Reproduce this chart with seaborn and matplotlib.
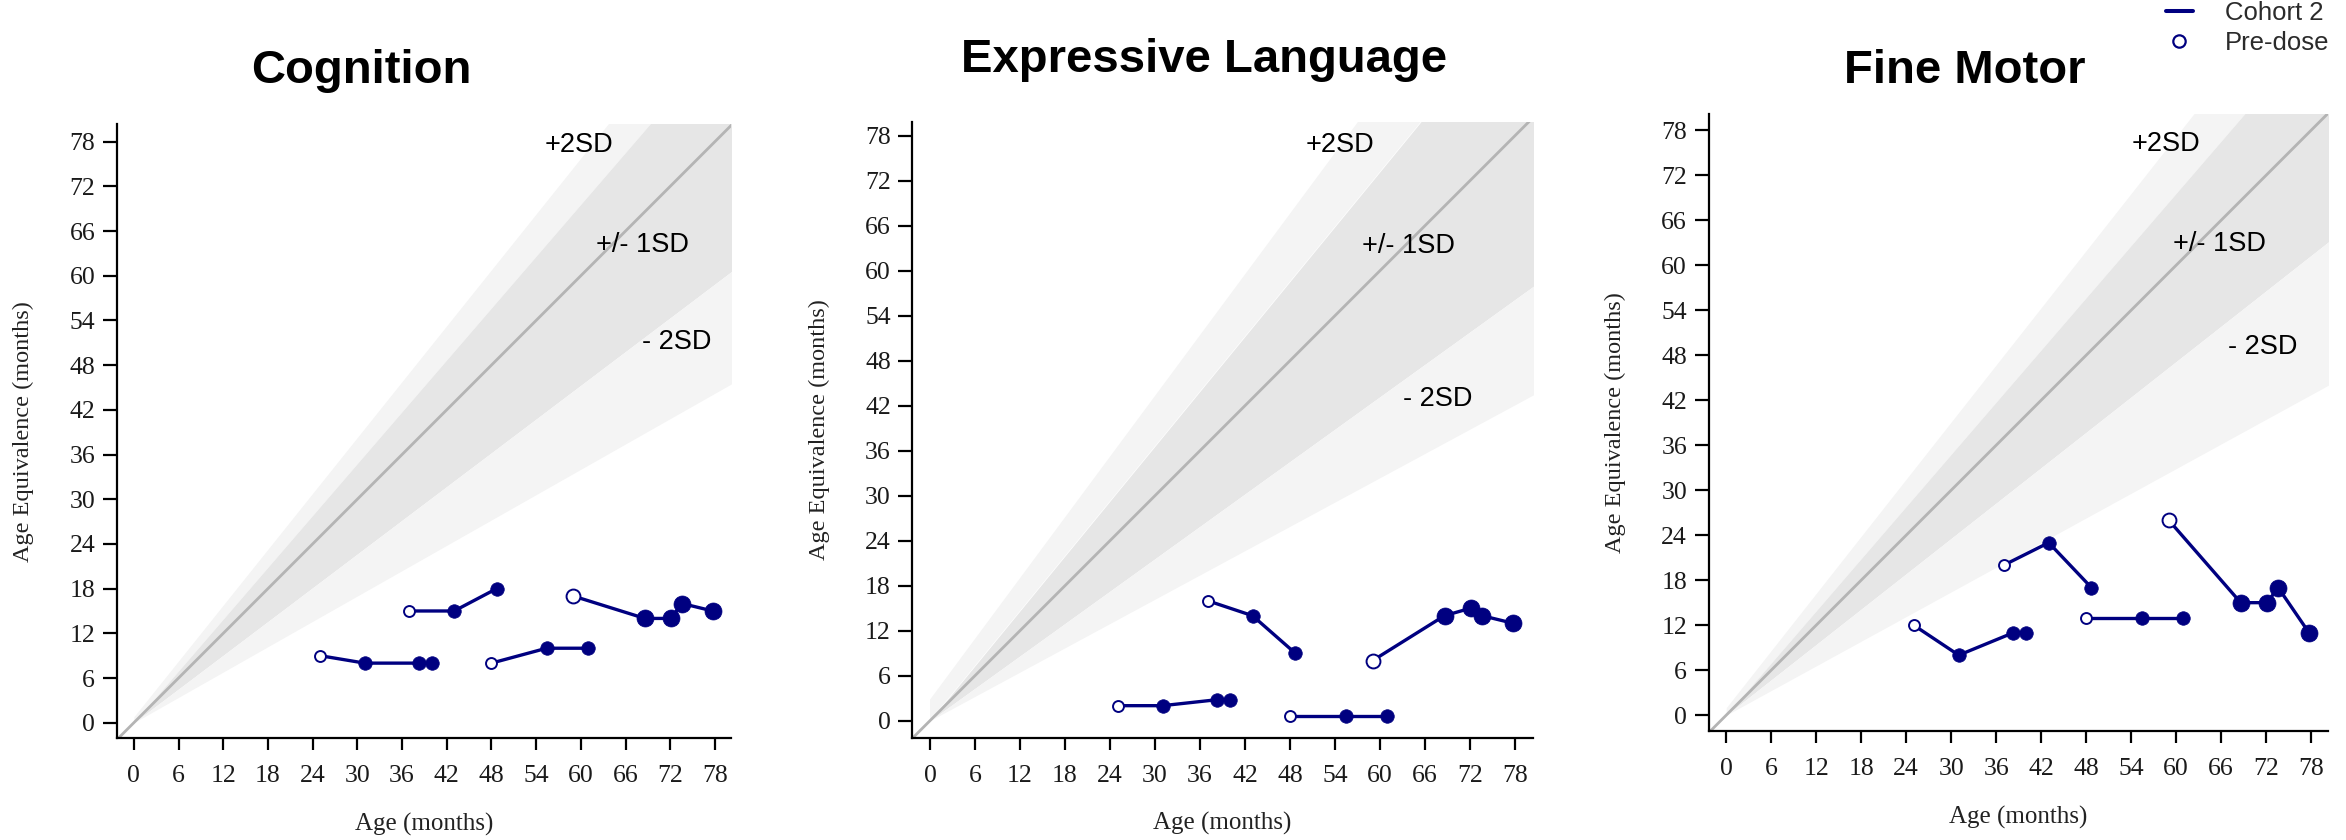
import numpy as np
import pandas as pd
import matplotlib
matplotlib.use("Agg")
import matplotlib.pyplot as plt
from matplotlib.lines import Line2D
import seaborn as sns

sns.set_theme(style="ticks")
plt.rcParams["font.family"] = ["Liberation Serif", "DejaVu Serif"]

NAVY = "#000080"
SANS = ["Liberation Sans", "DejaVu Sans"]

domains = ["Cognition", "Expressive Language", "Fine Motor"]
subjects = ["S1", "S2", "S3", "S4"]

# visit ages (months); the first visit of each subject is the pre-dose assessment
ages_s1 = [25.0, 31.0, 38.3, 40.0]
ages_s2 = [37.0, 43.0, 48.7]
ages_s3 = [48.0, 55.4, 60.9]
ages_s4 = [59.0, 68.6, 72.1, 73.6, 77.7]

# age-equivalent scores (months) per domain and subject
cognition = [[9, 8, 8, 8], [15, 15, 18], [8, 10, 10], [17, 14, 14, 16, 15]]
expressive = [[2, 2, 2.8, 2.8], [16, 14, 9], [0.6, 0.6, 0.6], [8, 14, 15, 14, 13]]
fine_motor = [[12, 8, 11, 11], [20, 23, 17], [13, 13, 13], [26, 15, 15, 17, 11]]

# marker areas per subject (post-dose, pre-dose)
marker_area = [95, 95, 95, 150]
predose_area = [62, 62, 62, 100]

# normative fan: (intercept, slope) of +2SD, +1SD, -1SD, -2SD boundaries
bands_cognition = [(0.8, 1.25), (0.0, 1.16), (0.0, 0.755), (0.0, 0.567)]
bands_expressive = [(2.8, 1.35), (0.0, 1.22), (0.0, 0.72), (0.0, 0.54)]
bands_fine_motor = [(1.0, 1.27), (0.0, 1.16), (0.0, 0.786), (0.0, 0.548)]

# band label anchors (age, score)
band_labels = ["+2SD", "+/- 1SD", "- 2SD"]
label_pos_cognition = [(59.7, 77.5), (68.3, 64.1), (72.9, 51.1)]
label_pos_expressive = [(54.7, 76.7), (63.8, 63.3), (67.7, 42.9)]
label_pos_fine_motor = [(58.6, 76.2), (65.7, 62.8), (71.5, 49.1)]

ticks = list(range(0, 79, 6))

scores = [cognition, expressive, fine_motor]
bands = [bands_cognition, bands_expressive, bands_fine_motor]
label_pos = [label_pos_cognition, label_pos_expressive, label_pos_fine_motor]
ages = [ages_s1, ages_s2, ages_s3, ages_s4]

rows = []
for dom, dom_scores in zip(domains, scores):
    for subj, subj_ages, subj_scores in zip(subjects, ages, dom_scores):
        for k, (a, s) in enumerate(zip(subj_ages, subj_scores)):
            rows.append(dict(domain=dom, subject=subj, age=a, score=s,
                             predose=(k == 0)))
df = pd.DataFrame(rows)

W, H = 2346, 840
fig = plt.figure(figsize=(W / 100, H / 100), dpi=100)

# axes layout in pixels: left, bottom(from top), x-limits, y-limits, px per month
layout = [
    (116.7, 738.0, (-2.3, 80.2), (-2.05, 80.3), 7.45),
    (912.3, 737.7, (-2.36, 80.4), (-2.27, 79.8), 7.50),
    (1708.6, 731.3, (-2.35, 80.3), (-2.15, 80.1), 7.50),
]
title_pos = [(361, 83), (1204, 72), (1965, 83)]

for i, dom in enumerate(domains):
    left, bottom, xl, yl, ppm = layout[i]
    wpx = (xl[1] - xl[0]) * ppm
    hpx = (yl[1] - yl[0]) * ppm
    ax = fig.add_axes([left / W, (H - bottom) / H, wpx / W, hpx / H])
    ax.set_xlim(*xl)
    ax.set_ylim(*yl)

    # normative fan
    xs = np.array([0.0, 85.0])
    bnd = [c + m * xs for c, m in bands[i]]
    ax.fill_between(xs, bnd[1], bnd[0], color="#f4f4f4", lw=0, zorder=0)
    ax.fill_between(xs, bnd[2], bnd[1], color="#e6e6e6", lw=0, zorder=0)
    ax.fill_between(xs, bnd[3], bnd[2], color="#f4f4f4", lw=0, zorder=0)
    ref = np.array([min(xl[0], yl[0]) - 1, 90])
    ax.plot(ref, ref, color="#b4b4b4", lw=2.0, zorder=1)

    for lab, (lx, ly) in zip(band_labels, label_pos[i]):
        ax.text(lx, ly, lab, ha="center", va="center", fontsize=19.5,
                family=SANS, color="black", zorder=2)

    d = df[df.domain == dom]
    sns.lineplot(data=d, x="age", y="score", units="subject", estimator=None,
                 sort=False, color=NAVY, lw=2.4, ax=ax, legend=False, zorder=3)
    for j, subj in enumerate(subjects):
        ds = d[d.subject == subj]
        sns.scatterplot(data=ds[~ds.predose], x="age", y="score", s=marker_area[j],
                        color=NAVY, edgecolor=NAVY, linewidth=0.5, ax=ax,
                        legend=False, zorder=4)
        sns.scatterplot(data=ds[ds.predose], x="age", y="score", s=predose_area[j],
                        color="white", edgecolor=NAVY, linewidth=1.4, ax=ax,
                        legend=False, zorder=5)

    ax.set_xticks(ticks)
    ax.set_yticks(ticks)
    ax.tick_params(axis="x", length=8.5, width=1.6, pad=11, labelsize=18.5,
                   labelcolor="#1a1a1a", color="black")
    ax.tick_params(axis="y", length=10, width=1.6, pad=5.5, labelsize=18.5,
                   labelcolor="#1a1a1a", color="black")
    for sp in ["left", "bottom"]:
        ax.spines[sp].set_linewidth(1.6)
        ax.spines[sp].set_color("black")
    sns.despine(ax=ax)

    ax.set_xlabel("Age (months)", fontsize=18, color="#222222")
    ax.set_ylabel("Age Equivalence (months)", fontsize=17.5, color="#222222")
    ax.xaxis.set_label_coords(0.5, -86 / hpx)
    ax.xaxis.label.set_va("center")
    ax.yaxis.set_label_coords(-93 / wpx, 0.5)
    ax.yaxis.label.set_va("center")

    tx, ty = title_pos[i]
    fig.text(tx / W, 1 - ty / H, dom, ha="center", va="baseline", fontsize=34,
             fontweight="bold", family=SANS, color="black")

handles = [
    Line2D([], [], color=NAVY, lw=2.9),
    Line2D([], [], ls="none", marker="o", ms=8.9, mfc="white", mec=NAVY, mew=1.6),
]
fig.legend(handles, ["Cohort 2", "Pre-dose"], loc="upper left",
           bbox_to_anchor=(2165.7 / W, 1 - 1 / H), frameon=False,
           prop={"family": SANS, "size": 18.5}, labelcolor="#2b2b2b",
           handlelength=1.05, handletextpad=1.25, labelspacing=0.22,
           borderpad=0, borderaxespad=0)

fig.savefig("out.png", dpi=100)
